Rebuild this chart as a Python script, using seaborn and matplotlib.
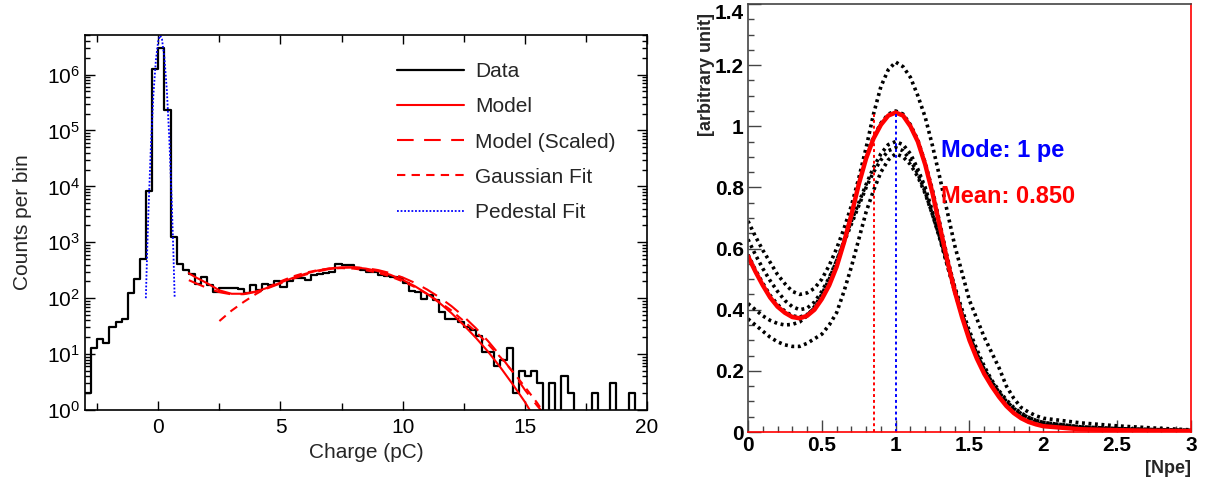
import numpy as np
import pandas as pd
import seaborn as sns
import matplotlib.pyplot as plt
from matplotlib.ticker import MultipleLocator, LogLocator, FuncFormatter, NullFormatter

# ---- left panel: charge spectrum, 0.25 pC bins from -3 to 20 pC ----
bin_edges = np.arange(-3, 20.001, 0.25)
counts = [2, 13, 19, 16, 30, 37, 42, 123, 218, 500,
          8100, 1.27e6, 3.0e6, 2.3e5, 1230, 405, 325, 276, 183, 240,
          170, 130, 152, 152, 150, 149, 124, 170, 143, 183,
          175, 200, 159, 204, 234, 230, 215, 260, 270, 285,
          300, 405, 400, 390, 350, 325, 300, 290, 262, 250,
          240, 232, 190, 132, 128, 98, 113, 92, 57, 43,
          43, 38, 31, 27, 21, 11, 11, 6, 8, 13,
          2, 5, 4, 5, 3, 0, 3, 0, 4, 2,
          0, 0, 0, 2, 0, 0, 3, 0, 0, 2,
          0, 0]

model_x = [1.25, 1.5, 2.0, 2.5, 3.0, 3.5, 4.0, 4.5, 5.0, 5.5, 6.0, 6.5, 7.0, 7.5, 8.0,
           8.5, 9.0, 9.5, 10.0, 10.5, 11.0, 11.5, 12.0, 12.5, 13.0, 13.5, 14.0, 14.5, 15.0, 15.2]
model_y = [280, 240, 185, 138, 120, 120, 132, 155, 190, 230, 272, 311, 341, 357, 356,
           338, 305, 262, 212, 164, 120, 83, 54, 33, 19.5, 11, 5.8, 2.9, 1.4, 1.0]

scaled_x = [1.25, 1.5, 2.0, 2.5, 3.0, 3.5, 4.0, 4.5, 5.0, 5.5, 6.0, 6.5, 7.0, 7.5, 8.0,
            8.5, 9.0, 9.5, 10.0, 10.5, 11.0, 11.5, 12.0, 12.5, 13.0, 13.5, 14.0, 14.5, 15.0, 15.5, 15.7]
scaled_y = [210, 188, 152, 128, 117, 118, 130, 152, 184, 222, 262, 300, 332, 350, 356,
            345, 318, 280, 235, 188, 143, 104, 72, 47, 29, 17, 9.3, 4.8, 2.3, 1.2, 0.95]

gauss_x = [2.5, 3.0, 3.5, 4.0, 4.5, 5.0, 5.5, 6.0, 6.5, 7.0, 7.5, 8.0, 8.5, 9.0,
           9.5, 10.0, 10.5, 11.0, 11.5, 12.0, 12.5, 13.0, 13.5, 14.0, 14.5, 15.0, 15.5, 15.7]
gauss_y = [39, 60, 86, 119, 158, 200, 244, 284, 316, 338, 345, 338, 316, 284,
           244, 200, 158, 119, 86, 60, 39, 25, 15, 8.8, 4.9, 2.6, 1.35, 1.0]

ped_x = [-0.51, -0.45, -0.4, -0.3, -0.2, -0.1, 0.0, 0.08, 0.15, 0.25, 0.35, 0.45, 0.55, 0.62, 0.67]
ped_y = [100, 830, 4000, 5.7e4, 4.4e5, 1.8e6, 4.1e6, 5.0e6, 4.3e6, 2.0e6, 5.2e5, 7.2e4, 5300, 600, 100]

# ---- right panel: response in photo-electrons ----
npe = list(np.round(np.arange(0, 2.001, 0.05), 2)) + [2.25, 2.5, 2.75, 3.0]
resp_main = [.575, .525, .48, .44, .41, .39, .376, .372, .38, .40, .435, .48, .54, .62, .71,
             .81, .895, .96, 1.005, 1.035, 1.045, 1.035, 1.0, .95, .875, .78, .67, .56, .46, .375,
             .30, .24, .19, .15, .115, .085, .062, .045, .033, .025, .019, .009, .006, .004, .003]
var_a = [.69, .64, .595, .555, .515, .485, .46, .45, .455, .47, .50, .545, .60, .665, .74,
         .83, .93, 1.04, 1.13, 1.185, 1.21, 1.195, 1.16, 1.10, 1.03, .935, .83, .72, .61, .52,
         .43, .37, .31, .26, .21, .15, .11, .08, .065, .053, .045, .03, .02, .013, .007]
var_b = [.58, .53, .487, .447, .417, .395, .38, .376, .384, .405, .44, .485, .545, .625, .715,
         .815, .90, .965, 1.01, 1.04, 1.05, 1.04, 1.005, .955, .88, .79, .68, .57, .47, .385,
         .31, .25, .20, .16, .125, .093, .07, .052, .04, .031, .025, .014, .009, .006, .004]
var_c = [.63, .58, .535, .495, .46, .43, .41, .40, .405, .425, .46, .505, .56, .625, .69,
         .75, .81, .865, .91, .94, .95, .94, .91, .86, .80, .72, .635, .545, .46, .38,
         .31, .25, .20, .16, .125, .095, .072, .055, .043, .035, .028, .015, .01, .007, .005]
var_d = [.42, .40, .38, .365, .355, .35, .352, .36, .38, .41, .45, .50, .56, .62, .68,
         .74, .80, .85, .89, .92, .93, .92, .89, .845, .785, .71, .63, .545, .46, .385,
         .315, .255, .205, .165, .13, .10, .077, .06, .047, .038, .031, .017, .011, .008, .005]
var_e = [.37, .35, .33, .31, .295, .285, .28, .28, .29, .305, .32, .35, .39, .46, .54,
         .63, .72, .79, .85, .89, .91, .90, .875, .835, .78, .71, .635, .555, .475, .40,
         .33, .27, .215, .17, .135, .105, .08, .062, .048, .038, .031, .017, .011, .008, .005]
mode_npe = 1.0
mean_npe = 0.850
marker_top = 1.045

sns.set_theme(style="ticks")
plt.rcParams["font.family"] = ["Liberation Sans", "DejaVu Sans"]
plt.rcParams["mathtext.fontset"] = "custom"
plt.rcParams["mathtext.rm"] = "Liberation Sans"
plt.rcParams["mathtext.it"] = "Liberation Sans"

fig = plt.figure(figsize=(12.23, 4.8), dpi=100)
W, H = 1223, 480
ax1 = fig.add_axes([85 / W, 1 - 410 / H, 562 / W, 375 / H])
ax2 = fig.add_axes([748 / W, 1 - 432 / H, 443 / W, 428 / H])

# left panel
hist_y = list(counts) + [counts[-1]]
sns.lineplot(x=bin_edges, y=hist_y, drawstyle="steps-post", color="black", lw=1.6,
             estimator=None, sort=False, label="Data", ax=ax1)
sns.lineplot(x=model_x, y=model_y, color="red", lw=1.5, estimator=None, sort=False,
             label="Model", ax=ax1)
sns.lineplot(x=scaled_x, y=scaled_y, color="red", lw=1.5, linestyle=(0, (8, 5)),
             estimator=None, sort=False, label="Model (Scaled)", ax=ax1)
sns.lineplot(x=gauss_x, y=gauss_y, color="red", lw=1.5, linestyle=(0, (4, 3)),
             estimator=None, sort=False, label="Gaussian Fit", ax=ax1)
sns.lineplot(x=ped_x, y=ped_y, color="blue", lw=1.3, linestyle=(0, (1, 1)),
             estimator=None, sort=False, label="Pedestal Fit", ax=ax1)

ax1.set_yscale("log")
ax1.set_xlim(-3, 20)
ax1.set_ylim(1, 5.1e6)
ax1.xaxis.set_major_locator(MultipleLocator(5))
ax1.xaxis.set_minor_locator(MultipleLocator(2.5))
ax1.yaxis.set_major_locator(LogLocator(base=10, numticks=20))
ax1.yaxis.set_minor_locator(LogLocator(base=10, subs=np.arange(2, 10), numticks=20))
ax1.yaxis.set_minor_formatter(NullFormatter())
ax1.tick_params(which="both", direction="in", top=True, right=True, labelsize=15,
                width=1, colors="black")
ax1.tick_params(axis="y", which="major", length=7)
ax1.tick_params(axis="y", which="minor", length=3.5)
ax1.tick_params(axis="x", which="major", length=6.5, pad=6)
ax1.tick_params(axis="x", which="minor", length=5)
for s in ax1.spines.values():
    s.set_linewidth(1.2)
    s.set_color("black")
ax1.set_xlabel("Charge (pC)", fontsize=15, labelpad=4)
ax1.set_ylabel("Counts per bin", fontsize=15, labelpad=11)
ax1.legend(loc="upper left", bbox_to_anchor=(0.555, 0.928), frameon=False, fontsize=15,
           handlelength=3.2, handletextpad=0.55, labelspacing=0.78, borderpad=0,
           borderaxespad=0)

# right panel
curves = pd.DataFrame({"npe": npe, "a": var_a, "b": var_b, "c": var_c, "d": var_d, "e": var_e})
curves = curves.melt(id_vars="npe", var_name="curve", value_name="resp")
sns.lineplot(data=curves, x="npe", y="resp", units="curve", estimator=None, color="black",
             lw=2.6, linestyle=(0, (0.8, 1.0)), ax=ax2)
sns.lineplot(x=npe, y=resp_main, color="red", lw=3.2, estimator=None, sort=False, ax=ax2)
ax2.vlines(mean_npe, 0, marker_top, colors="red", lw=1.4, linestyles=(0, (1.5, 1.5)))
ax2.vlines(mode_npe, 0, marker_top, colors="blue", lw=1.4, linestyles=(0, (1.5, 1.5)))
ax2.text(1.31, 0.90, f"Mode: {mode_npe:g} pe", color="blue", fontsize=17, fontweight="bold")
ax2.text(1.31, 0.75, f"Mean: {mean_npe:.3f}", color="red", fontsize=17, fontweight="bold")

ax2.set_xlim(0, 3)
ax2.set_ylim(0, 1.4)
ax2.xaxis.set_major_locator(MultipleLocator(0.5))
ax2.xaxis.set_minor_locator(MultipleLocator(0.1))
ax2.yaxis.set_major_locator(MultipleLocator(0.2))
ax2.yaxis.set_minor_locator(MultipleLocator(0.05))
fmt = FuncFormatter(lambda v, p: f"{v:g}")
ax2.xaxis.set_major_formatter(fmt)
ax2.yaxis.set_major_formatter(fmt)
ax2.tick_params(which="both", direction="in", top=False, right=False, labelsize=15,
                width=1, color="#444444", labelcolor="black")
ax2.tick_params(which="major", length=9)
ax2.tick_params(which="minor", length=4.5)
ax2.tick_params(axis="x", pad=3)
ax2.tick_params(axis="y", pad=3)
for name, s in ax2.spines.items():
    s.set_linewidth(1.2)
    s.set_color("#444444")
ax2.spines["right"].set_color("red")
ax2.spines["bottom"].set_color("red")
ax2.set_xlabel("[Npe]", fontsize=13, fontweight="bold", loc="right")
ax2.set_ylabel("[arbitrary unit]", fontsize=13, fontweight="bold", loc="top")
ax2.xaxis.set_label_coords(1.0, -0.065)
ax2.yaxis.set_label_coords(-0.075, 0.98)

# ticks are built at draw time: draw once, then style the labels that exist
fig.canvas.draw()
for lab in ax2.get_xticklabels() + ax2.get_yticklabels():
    lab.set_fontweight("bold")
    # the "1.4" label sits on the figure edge; hang it below its tick so it stays whole
    if lab.get_text() == "1.4":
        lab.set_verticalalignment("top")

fig.savefig("out.png", dpi=100)
